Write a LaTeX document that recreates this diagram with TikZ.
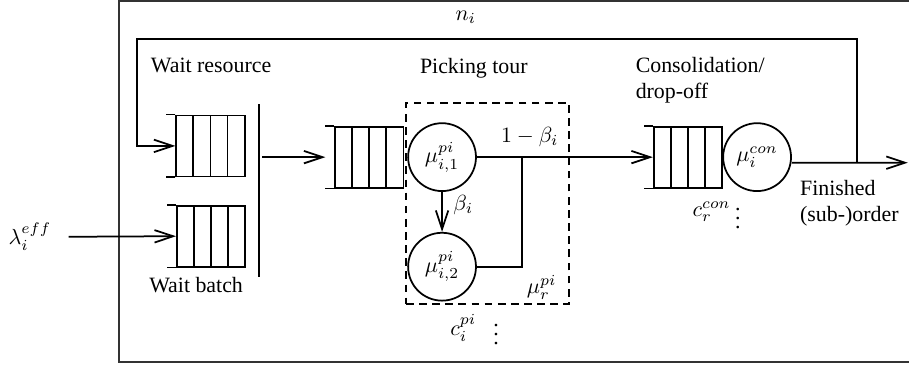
\documentclass[tikz,border=0pt]{standalone}
\usepackage[no-math]{fontspec}
\setmainfont{Liberation Serif}
\usetikzlibrary{arrows.meta}

\begin{document}
\begin{tikzpicture}[
  line width=0.8pt,
  arr/.style={-{Straight Barb[length=3mm,width=2mm]}},
  queue/.style={draw, rectangle, inner sep=0, minimum width=1.1cm, minimum height=0.98cm,
    path picture={\foreach \k in {1,2,3}
      \draw ([xshift=\k*2.75mm]path picture bounding box.south west) -- ([xshift=\k*2.75mm]path picture bounding box.north west);}},
  server/.style={draw, circle, inner sep=0, minimum size=1.09cm},
]
\path[use as bounding box, clip] (0,0) rectangle (14.60,5.894);
\draw[line width=0.6pt, black!80] (1.91,0.08) rectangle (15,5.88);

% queues
\node[queue](Q1) at (3.38,3.55){};
\node[queue](Q2) at (3.39,2.10){};
\node[queue](Q3) at (5.93,3.37){};
\node[queue](Q4) at (11.05,3.37){};
\foreach \q in {Q1,Q2,Q3,Q4}
  \draw (\q.north west) -- ++(-0.15,0) (\q.south west) -- ++(-0.15,0);

% servers
\node[server](S1) at (7.10,3.37){$\mu^{pi}_{i,1}$};
\node[server](S2) at (7.10,1.61){$\mu^{pi}_{i,2}$};
\node[server](S3) at (12.16,3.37){$\mu^{con}_{i}$};
\node[draw, dash pattern=on 3.5pt off 2.5pt, inner sep=0, minimum width=2.62cm, minimum height=3.23cm](T) at (7.83,2.625){};

% labels
\node[](L0) at (0.48,2.09){$\lambda^{eff}_i$};
\node[] at (3.39,4.85){Wait resource};
\node[] at (3.15,1.32){Wait batch};
\node[] at (7.61,4.80){Picking tour};
\node[anchor=west, align=left] at (10.08,4.61){Consolidation/\\drop-off};
\node[anchor=west, align=left] at (12.72,2.63){Finished\\(sub-)order};
\node[] at (7.48,5.62){$n_i$};
\node[] at (8.51,3.69){$1-\beta_i$};
\node[] at (7.44,2.60){$\beta_i$};
\node[] at (8.70,1.28){$\mu^{pi}_r$};
\node[] at (7.44,0.63){$c^{pi}_i$};
\node[] at (7.97,0.63){$\vdots$};
\node[] at (11.43,2.49){$c^{con}_r$};
\node[] at (11.85,2.49){$\vdots$};

% joins
\coordinate (B1) at (4.16,4.22);
\coordinate (B2) at (4.16,1.45);
\coordinate (B0) at (4.21,3.37);
\coordinate (J) at (8.38,3.37);
\coordinate (F) at (13.76,3.28);
\coordinate (E) at (14.58,3.28);

\draw (B1) -- (B2);
\draw[arr, shorten <=0.15cm] (L0.east) -- (Q2.west);
\draw[arr, shorten >=0.14cm] (B0) -- (Q3.west);
\draw[arr] (S1.south) -- (S2.north);
\draw[arr] (S1.east) -- (Q4.west);
\draw (S2.east) -| (J);
\draw[arr] ([yshift=-0.09cm]S3.east) -- (E);
\draw[arr] (F) |- (2.20,5.27) |- (Q1.west);
\end{tikzpicture}
\end{document}
